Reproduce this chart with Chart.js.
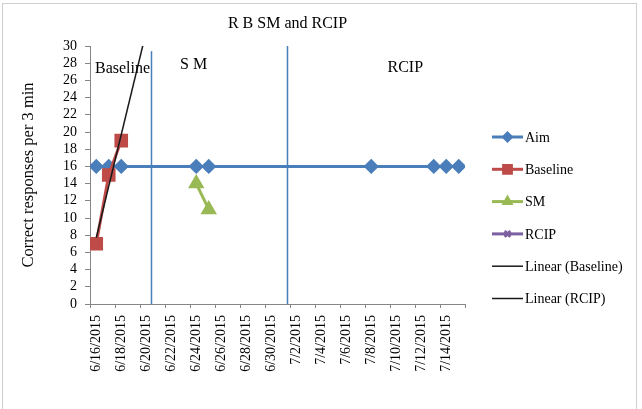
<!DOCTYPE html>
<html>
<head>
<meta charset="utf-8">
<script src="https://cdn.jsdelivr.net/npm/chart.js@4.4.1/dist/chart.umd.min.js"></script>
<style>
  body { margin: 0; background: #fff; }
  #wrap { position: relative; width: 642px; height: 409px; }
</style>
</head>
<body>
<div id="wrap"><canvas id="chart" width="642" height="409"></canvas></div>
<script>
// x values are days counted from 6/16/2015, one slot per day
const tickLabels = ['6/16/2015', '6/18/2015', '6/20/2015', '6/22/2015', '6/24/2015',
  '6/26/2015', '6/28/2015', '6/30/2015', '7/2/2015', '7/4/2015', '7/6/2015',
  '7/8/2015', '7/10/2015', '7/12/2015', '7/14/2015'];

const aimDays = [0, 1, 2, 8, 9, 22, 27, 28, 29];
const aimValues = [16, 16, 16, 16, 16, 16, 16, 16, 16];
const baselineDays = [0, 1, 2];
const baselineValues = [7, 15, 19];
const smDays = [8, 9];
const smValues = [14, 11];
const rcipDays = [];
const rcipValues = [];
const trendBaseDays = [0, 4];
const trendBaseValues = [7.7, 31.7];
const trendRcipDays = [];
const trendRcipValues = [];

// phase change lines and their names (in axis units)
const phaseLineX = [4.86, 15.72];
const phaseLineTop = [29.4, 30];
const phaseNames = ['Baseline', 'S M', 'RCIP'];
const phaseNameX = [0.4, 7.2, 23.8];
const phaseNameY = [26.9, 27.3, 27.0];

const SERIF = "'Liberation Serif', 'Times New Roman', serif";

function toPoints(days, values) {
        // centre of each day slot
        return days.map((d, i) => ({ x: d + 0.5, y: values[i] }));
}

const datasets = [
        { label: 'Aim', data: toPoints(aimDays, aimValues), borderColor: '#4a7ebb', backgroundColor: '#4a7ebb',
          borderWidth: 3, pointStyle: 'rectRot', pointRadius: 5.5, order: 5 },
        { label: 'Baseline', data: toPoints(baselineDays, baselineValues), borderColor: '#be4b48', backgroundColor: '#be4b48',
          borderWidth: 3, pointStyle: 'rect', pointRadius: 7.5, order: 4 },
        { label: 'SM', data: toPoints(smDays, smValues), borderColor: '#98b954', backgroundColor: '#98b954',
          borderWidth: 3, pointStyle: 'triangle', pointRadius: 6.5, order: 3 },
        { label: 'RCIP', data: toPoints(rcipDays, rcipValues), borderColor: '#7d60a0', backgroundColor: '#7d60a0',
          borderWidth: 3, pointStyle: 'crossRot', pointRadius: 5, order: 2 },
        { label: 'Linear (Baseline)', data: toPoints(trendBaseDays, trendBaseValues), borderColor: '#1a1a1a',
          borderWidth: 1.5, pointRadius: 0, pointStyle: false, clip: 0, order: 1 },
        { label: 'Linear (RCIP)', data: toPoints(trendRcipDays, trendRcipValues), borderColor: '#1a1a1a',
          borderWidth: 1.5, pointRadius: 0, pointStyle: false, clip: 0, order: 0 }
];

const extrasPlugin = {
        id: 'extras',
        beforeDraw(chart) {
                const ctx = chart.ctx;
                ctx.save();
                ctx.fillStyle = '#fff';
                ctx.fillRect(0, 0, chart.width, chart.height);
                ctx.strokeStyle = '#cfcfcf';
                ctx.lineWidth = 1;
                ctx.strokeRect(2.5, 3.5, 634, 440);
                ctx.restore();
        },
        afterDraw(chart) {
                const ctx = chart.ctx;
                const xs = chart.scales.x, ys = chart.scales.y;
                ctx.save();

                // title
                ctx.fillStyle = '#000';
                ctx.font = '16px ' + SERIF;
                ctx.textAlign = 'center';
                ctx.textBaseline = 'middle';
                ctx.fillText('R B SM and RCIP', 287.5, 24);

                // phase change lines
                ctx.strokeStyle = '#4a7ebb';
                ctx.lineWidth = 1.5;
                phaseLineX.forEach((v, i) => {
                        const px = Math.round(xs.getPixelForValue(v)) + 0.5;
                        ctx.beginPath();
                        ctx.moveTo(px, ys.getPixelForValue(phaseLineTop[i]));
                        ctx.lineTo(px, ys.getPixelForValue(0));
                        ctx.stroke();
                });

                // phase names
                ctx.font = '16px ' + SERIF;
                ctx.textAlign = 'left';
                ctx.textBaseline = 'alphabetic';
                phaseNames.forEach((name, i) => {
                        ctx.fillText(name, xs.getPixelForValue(phaseNameX[i]), ys.getPixelForValue(phaseNameY[i]));
                });

                // legend
                ctx.font = '14px ' + SERIF;
                ctx.textBaseline = 'middle';
                chart.data.datasets.forEach((ds, i) => {
                        const y = 137 + i * 32.3;
                        ctx.strokeStyle = ds.borderColor;
                        ctx.lineWidth = ds.borderWidth;
                        ctx.beginPath();
                        ctx.moveTo(492, y);
                        ctx.lineTo(523, y);
                        ctx.stroke();
                        if (ds.pointStyle) {
                                Chart.helpers.drawPoint(ctx, {
                                        pointStyle: ds.pointStyle, radius: ds.pointStyle === 'rect' ? 5.5 : 4,
                                        rotation: 0, borderWidth: 1
                                }, 507.5, y);
                                ctx.fillStyle = ds.backgroundColor;
                                ctx.strokeStyle = ds.borderColor;
                                ctx.lineWidth = 1;
                                if (ds.pointStyle !== 'crossRot') ctx.fill();
                                ctx.stroke();
                        }
                        ctx.fillStyle = '#000';
                        ctx.fillText(ds.label, 525, y + 1);
                });
                ctx.restore();
        }
};

new Chart(document.getElementById('chart'), {
        type: 'line',
        data: { datasets: datasets },
        options: {
                responsive: false,
                animation: false,
                layout: { padding: { top: 46, right: 177, bottom: 0, left: 0 } },
                plugins: { legend: { display: false }, tooltip: { enabled: false }, title: { display: false } },
                scales: {
                        x: {
                                type: 'linear',
                                min: 0,
                                max: 30,
                                afterFit(scale) { scale.height = 105; },
                                grid: { drawOnChartArea: false, drawTicks: true, tickLength: 4, color: '#868686' },
                                border: { display: true, color: '#868686', width: 1 },
                                ticks: {
                                        stepSize: 2,
                                        autoSkip: false,
                                        minRotation: 90,
                                        maxRotation: 90,
                                        padding: 7,
                                        labelOffset: 6.25,
                                        color: '#000',
                                        font: { family: SERIF, size: 14 },
                                        callback: (value, index) => tickLabels[index] || ''
                                }
                        },
                        y: {
                                min: 0,
                                max: 30,
                                afterFit(scale) { scale.width = 90; },
                                grid: { drawOnChartArea: false, drawTicks: true, tickLength: 5, color: '#868686' },
                                border: { display: true, color: '#868686', width: 1 },
                                ticks: { stepSize: 2, autoSkip: false, padding: 8, color: '#000', font: { family: SERIF, size: 14 } },
                                title: {
                                        display: true,
                                        text: 'Correct responses per 3 min',
                                        color: '#000',
                                        font: { family: SERIF, size: 16.5 },
                                        padding: { top: 19, bottom: 0 }
                                }
                        }
                }
        },
        plugins: [extrasPlugin]
});
</script>
</body>
</html>
